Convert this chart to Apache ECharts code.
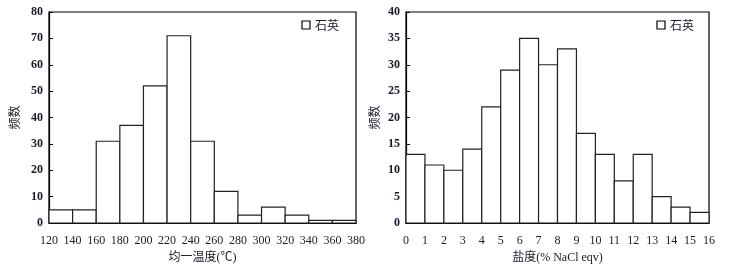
<!DOCTYPE html>
<html><head><meta charset="utf-8">
<script src="https://cdn.jsdelivr.net/npm/echarts@6/dist/echarts.min.js"></script>
<style>html,body{margin:0;padding:0;background:#fff}#c{width:732px;height:272px}</style>
</head><body><div id="c"></div>
<script>
const tempEdges = [120,140,160,180,200,220,240,260,280,300,320,340,360,380];
const tempCounts = [5,5,31,37,52,71,31,12,3,6,3,1,1];
const salEdges = [0,1,2,3,4,5,6,7,8,9,10,11,12,13,14,15,16];
const salCounts = [13,11,10,14,22,29,35,30,33,17,13,8,13,5,3,2];
const seriesName = '石英';
const xName1 = '均一温度(℃)';
const xName2 = '盐度(% NaCl eqv)';
const yName = '频数';

function binData(edges, counts){
  return counts.map((c,i)=>[edges[i], edges[i+1], c]);
}
function renderBin(params, api){
  const a = api.coord([api.value(0), api.value(2)]);
  const b = api.coord([api.value(1), 0]);
  return {type:'rect', shape:{x:a[0], y:a[1], width:b[0]-a[0], height:b[1]-a[1]},
    style:{fill:'#fff', stroke:'#222', lineWidth:1.2}};
}
const font = 'Liberation Serif, Noto Sans CJK SC, serif';
const labelStyle = {color:'#1a1a2a', fontFamily:font, fontSize:12};
function xAx(idx, min, max, interval, name){
  return {type:'value', gridIndex:idx, min, max, interval, name, nameLocation:'middle', nameGap:28,
    nameTextStyle:{color:'#1a1a2a', fontFamily:font, fontSize:12},
    axisLine:{show:true, lineStyle:{color:'#000', width:1.2}}, axisTick:{show:false},
    splitLine:{show:false}, axisLabel:Object.assign({margin:12}, labelStyle)};
}
function yAx(idx, max, interval, gap){
  return {type:'value', gridIndex:idx, min:0, max, interval, name:yName, nameLocation:'middle', nameGap:gap,
    nameRotate:90, nameTextStyle:{color:'#1a1a2a', fontFamily:'Noto Sans CJK SC', fontSize:12},
    axisLine:{show:true, lineStyle:{color:'#000', width:1.2}},
    axisTick:{show:true, inside:true, length:4, lineStyle:{color:'#000'}},
    splitLine:{show:false}, axisLabel:Object.assign({margin:6, fontWeight:'bold'}, labelStyle)};
}
const chart = echarts.init(document.getElementById('c'), null, {renderer:'canvas'});
chart.setOption({
  animation:false,
  grid:[
    {left:49, right:376, top:12, bottom:49, show:true, borderColor:'#000', borderWidth:1.2},
    {left:406, right:23, top:12, bottom:49, show:true, borderColor:'#000', borderWidth:1.2}
  ],
  xAxis:[xAx(0,120,380,20,xName1), xAx(1,0,16,1,xName2)],
  yAxis:[yAx(0,80,10,29), yAx(1,40,5,26)],
  legend:[
    {data:[seriesName], right:388, top:14, icon:'rect', itemWidth:8, itemHeight:8, itemGap:3,
     textStyle:{fontFamily:'Noto Sans CJK SC', fontSize:12, color:'#1a1a2a'},
     itemStyle:{color:'#fff', borderColor:'#000', borderWidth:1.2}, selectedMode:false},
    {data:[seriesName], right:33, top:14, icon:'rect', itemWidth:8, itemHeight:8, itemGap:3,
     textStyle:{fontFamily:'Noto Sans CJK SC', fontSize:12, color:'#1a1a2a'},
     itemStyle:{color:'#fff', borderColor:'#000', borderWidth:1.2}, selectedMode:false}
  ],
  series:[
    {type:'custom', name:seriesName, xAxisIndex:0, yAxisIndex:0, renderItem:renderBin,
     data:binData(tempEdges,tempCounts), encode:{x:[0,1], y:2}, itemStyle:{color:'#fff', borderColor:'#000'}},
    {type:'custom', name:seriesName, xAxisIndex:1, yAxisIndex:1, renderItem:renderBin,
     data:binData(salEdges,salCounts), encode:{x:[0,1], y:2}, itemStyle:{color:'#fff', borderColor:'#000'}}
  ]
});
</script></body></html>
